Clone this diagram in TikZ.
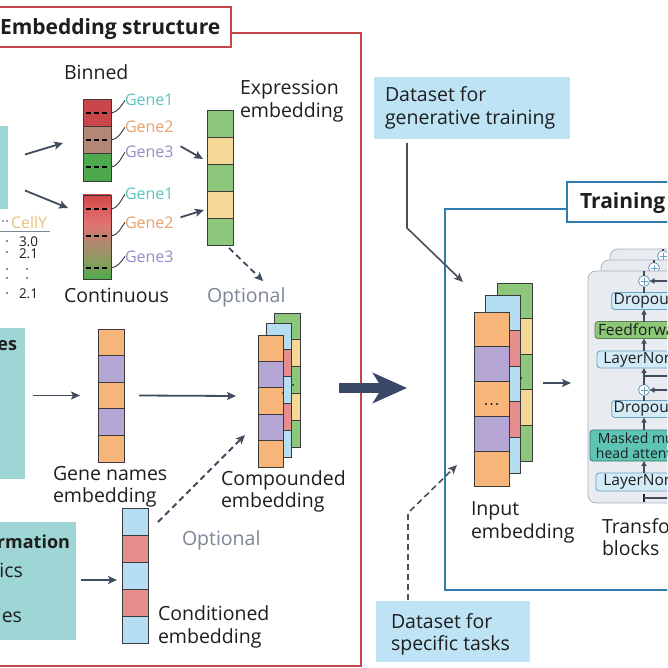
\documentclass[tikz,border=0pt]{standalone}
\usepackage{fontspec}
\setmainfont{Open Sans}
\usetikzlibrary{arrows.meta,calc}
\definecolor{redbox}{HTML}{C4484C}
\definecolor{teal1}{HTML}{9DD6D4}
\definecolor{skyb}{HTML}{BDE3F5}
\definecolor{arrowc}{HTML}{414C5E}
\definecolor{navy}{HTML}{3A4868}
\definecolor{trainblue}{HTML}{2E7DAF}
\definecolor{cOr}{HTML}{F8B57A}
\definecolor{cPu}{HTML}{B6A6D6}
\definecolor{cGr}{HTML}{8DC77B}
\definecolor{cYe}{HTML}{F5D898}
\definecolor{cBl}{HTML}{B5DEF2}
\definecolor{cRd}{HTML}{E68E8E}
\definecolor{binR}{HTML}{C9474A}
\definecolor{binB}{HTML}{B38778}
\definecolor{binG}{HTML}{4EA94E}
\definecolor{contGB}{HTML}{7FA15C}
\definecolor{contBr}{HTML}{AE8A6E}
\definecolor{contPk}{HTML}{E27373}
\definecolor{contR2}{HTML}{DA5A5A}
\definecolor{contRd}{HTML}{D04848}
\definecolor{geneT}{HTML}{5CC4BE}
\definecolor{geneO}{HTML}{EE9F6E}
\definecolor{geneP}{HTML}{9A8BC6}
\definecolor{optg}{HTML}{7C8696}
\definecolor{celly}{HTML}{E3C47A}
\definecolor{panelf}{HTML}{E8EBF0}
\definecolor{paneld}{HTML}{A9B2BF}
\definecolor{lnbox}{HTML}{D3EBF7}
\definecolor{lnline}{HTML}{6A9FC0}
\definecolor{ffg}{HTML}{8CC878}
\definecolor{mha}{HTML}{5EC5B5}
\definecolor{barline}{HTML}{3A3A3A}
\definecolor{txtc}{HTML}{1E1E1E}
\definecolor{garr}{HTML}{4A4F5C}
\pgfdeclareverticalshading{contgrad}{100bp}{color(0bp)=(binG); color(25bp)=(binG); color(33bp)=(contGB); color(46bp)=(contBr); color(58bp)=(contPk); color(68bp)=(contR2); color(75bp)=(contRd); color(100bp)=(contRd)}
\newcommand\embbar[7]{%
  \foreach \cc [count=\ii from 0] in {#7} {
    \filldraw[seg, fill=\cc] (#2, {#3+\ii*#5}) rectangle ++(#4, #5);
  }
  \node[minimum width=#4pt, minimum height=#6*#5pt, anchor=north west] (#1) at (#2,#3) {};
}
\begin{document}
\begin{tikzpicture}[x=1pt,y=-1pt,
  every node/.style={inner sep=0pt, outer sep=0pt},
  lbl/.style={font=\fontsize{19.5}{22}\selectfont, text=txtc, anchor=base west},
  bld/.style={font=\bfseries\fontsize{18}{22}\selectfont, text=txtc, anchor=base east},
  glbl/.style={font=\fontsize{16}{18}\selectfont, anchor=base west},
  num/.style={font=\fontsize{13.5}{15}\selectfont, text=txtc, anchor=base west},
  arr/.style={draw=arrowc, line width=1.8pt, -{Stealth[length=9pt,width=8pt,inset=2pt]}},
  darr/.style={arr, dash pattern=on 6pt off 4pt},
  gar/.style={draw=garr, line width=1.6pt, -{Stealth[length=9pt,width=8pt,inset=2pt]}},
  seg/.style={draw=barline, line width=0.7pt},
  leader/.style={draw=barline, line width=0.9pt},
  dsh/.style={draw=black, line width=1.7pt, dash pattern=on 5pt off 3pt},
  dotc/.style={fill=txtc},
  tbox/.style={draw=lnline, fill=lnbox, rounded corners=3pt, line width=0.8pt, font=\fontsize{15.5}{16}\selectfont, text=txtc, minimum height=17pt, inner xsep=2pt},
  tarr/.style={draw=arrowc, line width=1.4pt, -{Triangle[length=5pt,width=5pt]}},
  tline/.style={draw=arrowc, line width=1.2pt},
  pc/.style={circle, draw=lnline, fill=white, line width=0.8pt, minimum size=11pt},
  panel/.style={draw=paneld, fill=panelf, line width=0.8pt, rounded corners=8pt, anchor=north west},
]
\useasboundingbox (0,0) rectangle (667,668);
\clip (0,0) rectangle (667,668);
\fill[white] (0,0) rectangle (667,668);

% ---------- Embedding structure frame ----------
\draw[redbox, line width=2pt] (-5,33) rectangle (361,666);
\node[draw=redbox, line width=2pt, fill=white, minimum width=236pt, minimum height=40pt, anchor=north west] (ttlbox) at (-5,7) {};
\node[font=\bfseries\fontsize{21}{24}\selectfont, text=txtc, anchor=base west] (ttl) at (0,35) {Embedding structure};

% teal input boxes (cropped)
\node[fill=teal1, minimum width=18pt, minimum height=83pt, anchor=north west] (tealA) at (-10,126) {};
\node[fill=teal1, minimum width=35pt, minimum height=151pt, anchor=north west] (tealB) at (-10,328) {};
\node[fill=teal1, minimum width=86pt, minimum height=118pt, anchor=north west] (tealC) at (-10,522) {};
\node[bld] (tB) at (17,350) {es};
\node[bld] (tC1) at (70,548) {rmation};
\node[lbl, anchor=base east] (tC2) at (23,577) {ics};
\node[lbl, anchor=base east] (tC3) at (22,622) {ies};

% table
\fill[optg] (3,221) circle (1.1pt) (7,221) circle (1.1pt);
\node[num, font=\fontsize{16}{18}\selectfont, text=celly] (celly) at (11,228) {CellY};
\draw[optg, line width=0.9pt] (0,231) -- (50,231);
\node[num] (n1) at (19,246) {3.0};
\node[num] (n2) at (19,258) {2.1};
\node[num] (n3) at (19,298) {2.1};
\foreach \yy in {241,252,269,278,293} \fill[dotc] (7,\yy) circle (0.9pt);
\foreach \yy in {269,278} \fill[dotc] (27,\yy) circle (0.9pt);

% binned bar
\node[lbl] (binnedT) at (64,80) {Binned};
\embbar{binned}{83}{99}{28}{27.33}{3}{binR,binB,binG}
\foreach \yy in {113,140,167} \draw[dsh] (86,\yy) -- (109,\yy);

% continuous bar
\shade[shading=contgrad] (83,195) rectangle (111,279);
\draw[seg] (83,195) rectangle (111,279);
\node[minimum width=28pt, minimum height=84pt, anchor=north west] (cont) at (83,195) {};
\foreach \yy in {209,236,268} \draw[dsh] (86,\yy) -- (109,\yy);
\node[lbl] (contT) at (64,302) {Continuous};

% gene labels
\node[glbl, text=geneT] (bg1) at (125,106) {Gene1};
\node[glbl, text=geneO] (bg2) at (125,133) {Gene2};
\node[glbl, text=geneP] (bg3) at (125,158) {Gene3};
\node[glbl, text=geneT] (cg1) at (125,200) {Gene1};
\node[glbl, text=geneO] (cg2) at (125,228) {Gene2};
\node[glbl, text=geneP] (cg3) at (125,262) {Gene3};
\draw[leader] ($(binned.north east)+(0,14)$) to[out=10,in=-125] (bg1.west);
\draw[leader] ($(binned.north east)+(0,41)$) to[out=10,in=-125] (bg2.west);
\draw[leader] ($(binned.north east)+(0,68)$) to[out=10,in=-125] (bg3.west);
\draw[leader] ($(cont.north east)+(0,14)$) to[out=10,in=-125] (cg1.west);
\draw[leader] ($(cont.north east)+(0,41)$) to[out=10,in=-125] (cg2.west);
\draw[leader] ($(cont.north east)+(0,73)$) to[out=10,in=-125] (cg3.west);

% expression embedding
\embbar{expr}{207}{110}{26}{27}{5}{cGr,cYe,cGr,cYe,cGr}
\node[lbl] (exT1) at (240,95) {Expression};
\node[lbl] (exT2) at (240,118) {embedding};
\node[lbl, text=optg] (optA) at (207,302) {Optional};

\draw[arr] ($(tealA.east)+(17,-13)$) -- ($(binned.west)+(-20,3)$);
\draw[arr] ($(tealA.east)+(17,23)$) -- ($(cont.west)+(-15,-29)$);
\draw[arr] ($(bg3.east)+(7,-6)$) -- ($(expr.west)+(-4,-18.5)$);
\draw[arr] ($(cg2.east)+(7,-5)$) -- ($(expr.west)+(-3,32.5)$);
\draw[darr] ($(expr.south)+(9,3)$) -- ($(optA.north)+(17,-6)$);

% gene names embedding
\embbar{gnames}{98}{329}{26}{26.6}{5}{cOr,cPu,cOr,cPu,cOr}
\node[lbl] (gnT1) at (53,480) {Gene names};
\node[lbl] (gnT2) at (53,502) {embedding};
\draw[arr] ($(tealB.east |- gnames.west)+(8,0)$) -- ($(gnames.west)+(-18,0)$);

% compounded embedding
\embbar{cback}{274}{313}{26}{26.8}{5}{cGr,cYe,cGr,cYe,cGr}
\embbar{cmid}{266}{323}{25}{26.8}{5}{cBl,cRd,cBl,cRd,cBl}
\embbar{cfront}{258}{335}{25}{26.4}{5}{cOr,cPu,cOr,cPu,cOr}
\fill[dotc] (293,385) circle (1pt) (283,393) circle (1pt);
\node[lbl] (cpT1) at (221,485) {Compounded};
\node[lbl] (cpT2) at (221,507) {embedding};
\draw[arr] ($(gnames.east)+(15,0)$) -- ($(cfront.west)+(-22,-5)$);

% conditioned embedding
\embbar{cond}{122}{508}{26}{27}{5}{cBl,cRd,cBl,cRd,cBl}
\node[lbl] (cdT1) at (158,620) {Conditioned};
\node[lbl] (cdT2) at (158,643) {embedding};
\node[lbl, text=optg] (optB) at (182,545) {Optional};
\draw[arr] ($(tealC.east)+(5,-1)$) -- ($(cond.west)+(-5,4.5)$);
\draw[darr] ($(cond.north east)+(10,14)$) -- ($(cfront.west)+(-13,34)$);

% big arrow
\coordinate (bigS) at (339,388);
\coordinate (bigE) at (407,388);
\draw[navy, line width=10pt, -{Stealth[length=34pt,width=30pt,inset=9pt]}] (bigS) -- (bigE);

% ---------- right part ----------
\node[fill=skyb, minimum width=196pt, minimum height=62pt, anchor=north west] (dgen) at (374,77) {};
\node[lbl] (dgT1) at (385,102) {Dataset for};
\node[lbl] (dgT2) at (385,125) {generative training};

\draw[trainblue, line width=2.5pt] (445,209) rectangle (720,590);
\node[draw=trainblue, line width=2.5pt, fill=white, minimum width=150pt, minimum height=40pt, anchor=north west] (trbox) at (567,182) {};
\node[font=\bfseries\fontsize{21}{24}\selectfont, text=txtc, anchor=base west] (trT) at (580,208) {Training};

% input embedding
\embbar{iback}{497}{283}{35}{35.6}{5}{cGr,cYe,cGr,cYe,cGr}
\embbar{imid}{485}{295}{35}{35.6}{5}{cBl,cRd,cBl,cRd,cBl}
\embbar{infront}{474}{312}{35}{34.8}{5}{cOr,cPu,cOr,cPu,cOr}
\foreach \xx in {486,491.5,497} \fill[dotc] (\xx,404) circle (1.1pt);
\fill[dotc] (521,378) circle (1pt);
\node[lbl] (inT1) at (471,515) {Input};
\node[lbl] (inT2) at (471,538) {embedding};

\draw[gar] ($(dgen.south west)+(33,4)$) -- ++(0,85) -- ($(infront.north west)+(-11,-30)$);

\node[fill=skyb, minimum width=154pt, minimum height=61pt, anchor=north west] (dspec) at (376,601) {};
\node[lbl] (dsT1) at (391,628) {Dataset for};
\node[lbl] (dsT2) at (391,650) {specific tasks};
\draw[darr, draw=garr, line width=1.6pt] ($(dspec.north west)+(32,-1)$) -- ++(0,-87) -- ($(infront.west)+(-17,66)$);

% transformer blocks
\node[panel, minimum width=140pt, minimum height=230pt] (panel3) at (610,249) {};
\node[pc] (p1c) at (663,256) {};
\draw[tline] (p1c.north) -- (p1c.north |- panel3.north);
\draw[lnline, line width=0.8pt] ($(p1c.center)+(0,-3.5)$) -- ++(0,7) ($(p1c.center)+(-3.5,0)$) -- ++(7,0);
\node[panel, minimum width=140pt, minimum height=232pt] (panel2) at (601,260) {};
\node[pc] (p1b) at (654,268) {};
\draw[tline] (p1b.north) -- (p1b.north |- panel2.north);
\draw[lnline, line width=0.8pt] ($(p1b.center)+(0,-3.5)$) -- ++(0,7) ($(p1b.center)+(-3.5,0)$) -- ++(7,0);
\node[panel, minimum width=140pt, minimum height=232pt] (panel1) at (588,271) {};

\node[pc] (p1) at (644,281) {};
\draw[lnline, line width=0.8pt] ($(p1.center)+(0,-3.5)$) -- ++(0,7) ($(p1.center)+(-3.5,0)$) -- ++(7,0);
\node[tbox, minimum width=64pt] (do1) at (644,301) {Dropout};
\node[tbox, fill=ffg, draw=ffg!65!black, minimum width=98pt] (ff) at (644,330) {Feedforward};
\node[tbox, minimum width=94pt] (ln1) at (644,359.5) {LayerNorm};
\node[pc] (p2) at (644,390) {};
\draw[lnline, line width=0.8pt] ($(p2.center)+(0,-3.5)$) -- ++(0,7) ($(p2.center)+(-3.5,0)$) -- ++(7,0);
\node[tbox, minimum width=64pt] (do2) at (644,409) {Dropout};
\node[tbox, fill=mha, draw=mha!60!black, minimum width=108pt, minimum height=31pt, align=center, font=\fontsize{14}{15.5}\selectfont] (mhaN) at (644,445.5) {Masked multi-\\head attention};
\node[tbox, minimum width=96pt, minimum height=18pt] (ln2) at (644,482) {LayerNorm};

\draw[tline] (p1.north) -- (p1.north |- panel1.north);
\draw[tline] (do1.north) -- (p1.south);
\draw[tarr] (ff.north) -- (do1.south);
\draw[tarr] (ln1.north) -- (ff.south);
\draw[tarr] (p2.north) -- (ln1.south);
\draw[tline] ($(ln1.south)+(0,8)$) -- ++(40,0);
\draw[tline] (do2.north) -- (p2.south);
\draw[tarr] (mhaN.north) -- (do2.south);
\draw[tarr] (ln2.north) -- (mhaN.south);
\draw[draw=txtc, line width=2.4pt] ($(ln2.south)+(0,3)$) -- ($(ln2.south |- panel1.south)+(0,-1)$);
\draw[tline] ($(ln2.south)+(0,7)$) -- ++(40,0);
\draw[tarr] ($(p1.east)+(20,0)$) -- (p1.east);
\draw[tarr] ($(p2.east)+(20,0)$) -- (p2.east);
\draw[arr] ($(iback.east)+(11,11)$) -- ($(panel1.west)+(-17,-4)$);

\node[lbl] (tfT1) at (602,533) {Transformer};
\node[lbl] (tfT2) at (602,555) {blocks};
\end{tikzpicture}
\end{document}
